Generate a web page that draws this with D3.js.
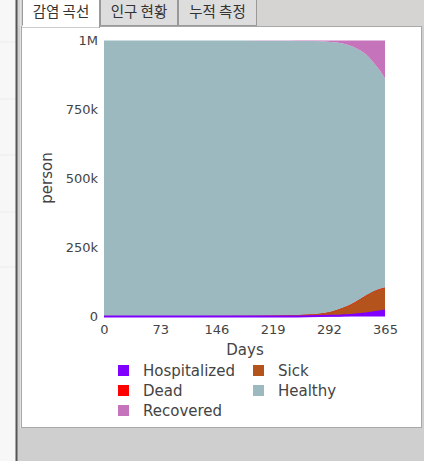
<!DOCTYPE html>
<html>
<head>
<meta charset="utf-8">
<script src="https://cdn.jsdelivr.net/npm/d3@7"></script>
<style>
  html, body { margin: 0; padding: 0; background: #cfcfcf; overflow: hidden; }
  svg { display: block; }
</style>
</head>
<body>
<svg width="424" height="461"></svg>
<script>
// data
var tabs = ["감염 곡선", "인구 현황", "누적 측정"];
var days = [0, 40, 80, 120, 160, 200, 230, 250, 265, 280, 295, 310, 320, 330, 340, 350, 358, 365];
var hospitalized = [0, 0, 0, 0, 20, 80, 200, 450, 800, 1400, 2500, 4000, 5500, 8000, 11000, 15000, 18500, 21500];
var sick = [5, 10, 30, 80, 250, 700, 1500, 2700, 4200, 6500, 12500, 25000, 35000, 48000, 62000, 73000, 78000, 80000];
var dead = [0, 0, 0, 0, 0, 5, 15, 30, 50, 90, 160, 280, 400, 580, 800, 1050, 1300, 1500];
var recovered = [0, 10, 40, 100, 250, 600, 1100, 1500, 2000, 3000, 5500, 11000, 19000, 32000, 50000, 80000, 108000, 138000];
var population = 1000000;
var healthy = days.map(function(d, i) {
  return population - hospitalized[i] - sick[i] - dead[i] - recovered[i];
});
var seriesNames = ["Hospitalized", "Sick", "Dead", "Healthy", "Recovered"];
var seriesColors = ["#7f00ff", "#b5531c", "#ff0000", "#9bb9bf", "#c573bb"];
var xTicks = [0, 73, 146, 219, 292, 365];
var yTicks = [0, 250000, 500000, 750000, 1000000];

var svg = d3.select("svg");

// page behind
svg.append("rect").attr("x", 0).attr("y", 0).attr("width", 16).attr("height", 461).attr("fill", "#f7f7f7");
[42, 99, 155, 212, 267].forEach(function(y) {
  svg.append("line").attr("x1", 0).attr("x2", 16).attr("y1", y).attr("y2", y)
    .attr("stroke", "#ececec");
});
svg.append("rect").attr("x", 16).attr("y", 0).attr("width", 408).attr("height", 26)
  .attr("fill", "#d6d3d3");
svg.append("line").attr("x1", 16.5).attr("x2", 16.5).attr("y1", 0).attr("y2", 461)
  .attr("stroke", "#555").attr("stroke-width", 2);
svg.append("line").attr("x1", 20.5).attr("x2", 20.5).attr("y1", 0).attr("y2", 428)
  .attr("stroke", "#e2e2e2");

// panel
svg.append("rect").attr("x", 21.5).attr("y", 26.5).attr("width", 400).attr("height", 401)
  .attr("fill", "#fff").attr("stroke", "#a8a8a8");

// tabs
var tabX = [22, 100, 178, 257];
tabs.forEach(function(t, i) {
  var active = i == 0;
  svg.append("rect")
    .attr("x", tabX[i] + 0.5).attr("y", -2.5)
    .attr("width", tabX[i + 1] - tabX[i] - 1).attr("height", active ? 30 : 28)
    .attr("fill", active ? "#fff" : "#dddddd")
    .attr("stroke", "#999");
  svg.append("text")
    .attr("x", (tabX[i] + tabX[i + 1]) / 2).attr("y", 17)
    .attr("text-anchor", "middle")
    .style("font-family", "'Noto Sans CJK KR', sans-serif")
    .style("font-size", "14.5px")
    .style("fill", "#333")
    .text(t);
});
svg.append("line").attr("x1", 22).attr("x2", 99).attr("y1", 26.5).attr("y2", 26.5)
  .attr("stroke", "#fff").attr("stroke-width", 2);

// chart
var x = d3.scaleLinear().domain([0, 365]).range([104, 385]);
var y = d3.scaleLinear().domain([0, population]).range([316.5, 40.5]);

var table = days.map(function(d, i) {
  return {
    day: d,
    Hospitalized: hospitalized[i],
    Sick: sick[i],
    Dead: dead[i],
    Healthy: healthy[i],
    Recovered: recovered[i]
  };
});

var stack = d3.stack().keys(seriesNames);
var layers = stack(table);

var area = d3.area()
  .curve(d3.curveMonotoneX)
  .x(function(d) { return x(d.data.day); })
  .y0(function(d) { return y(d[0]); })
  .y1(function(d) { return y(d[1]); });

var topLine = d3.line()
  .curve(d3.curveMonotoneX)
  .x(function(d) { return x(d.data.day); })
  .y(function(d) { return y(d[1]); });

var g = svg.append("g");
g.selectAll("path.area")
  .data(layers)
  .enter().append("path")
  .attr("class", "area")
  .attr("d", area)
  .attr("fill", function(d, i) { return seriesColors[i]; });

// edges of the three small layers, purple drawn last so it sits on the floor
var edges = layers.slice(0, 3).reverse();
g.selectAll("path.edge")
  .data(edges)
  .enter().append("path")
  .attr("class", "edge")
  .attr("d", topLine)
  .attr("fill", "none")
  .attr("stroke", function(d) { return seriesColors[d.index]; })
  .attr("stroke-width", function(d) { return d.index == 0 ? 2 : 1; });

var font = "'DejaVu Sans', Verdana, sans-serif";

var xAxis = svg.append("g")
  .attr("transform", "translate(0,320)")
  .call(d3.axisBottom(x).tickValues(xTicks).tickSize(0).tickPadding(5));
var yAxis = svg.append("g")
  .attr("transform", "translate(100,0)")
  .call(d3.axisLeft(y).tickValues(yTicks).tickSize(0).tickPadding(2)
    .tickFormat(function(d) { return d == 0 ? "0" : d3.format("~s")(d); }));

[xAxis, yAxis].forEach(function(a) {
  a.select(".domain").remove();
  a.selectAll("text")
    .style("font-family", font)
    .style("font-size", "13px")
    .style("fill", "#444");
});

svg.append("text")
  .attr("x", 245).attr("y", 355)
  .attr("text-anchor", "middle")
  .style("font-family", font).style("font-size", "15px").style("fill", "#444")
  .text("Days");

svg.append("text")
  .attr("transform", "translate(52,178) rotate(-90)")
  .attr("text-anchor", "middle")
  .style("font-family", font).style("font-size", "15px").style("fill", "#444")
  .text("person");

// legend, two columns filled row by row
var legend = svg.append("g");
var item = legend.selectAll("g")
  .data(seriesNames)
  .enter().append("g")
  .attr("transform", function(d, i) {
    var col = i % 2, row = Math.floor(i / 2);
    return "translate(" + (col == 0 ? 118 : 253) + "," + (365 + row * 20) + ")";
  });
item.append("rect")
  .attr("width", 11).attr("height", 11)
  .attr("fill", function(d, i) { return seriesColors[i]; });
item.append("text")
  .attr("x", 25).attr("y", 11)
  .style("font-family", font).style("font-size", "15px").style("fill", "#444")
  .text(function(d) { return d; });
</script>
</body>
</html>
